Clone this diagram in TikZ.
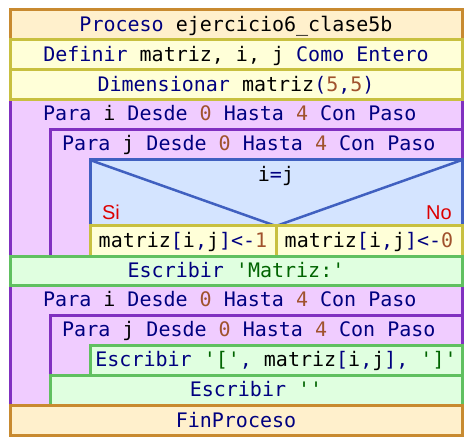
\documentclass[tikz,border=0pt]{standalone}
\usepackage{fontspec}
\newfontfamily\codefont{DejaVu Sans Mono}
\newfontfamily\labelfont{Liberation Sans}
\definecolor{kwcol}{HTML}{000080}
\definecolor{numcol}{HTML}{A0522D}
\definecolor{strcol}{HTML}{006400}
\definecolor{branchcol}{HTML}{DD0000}
\definecolor{procfill}{HTML}{FFF0CC}
\definecolor{procline}{HTML}{C88A30}
\definecolor{stmtfill}{HTML}{FFFFD8}
\definecolor{stmtline}{HTML}{C8C040}
\definecolor{loopfill}{HTML}{F0CCFF}
\definecolor{loopline}{HTML}{8030C0}
\definecolor{condfill}{HTML}{D4E4FF}
\definecolor{condline}{HTML}{4060C0}
\definecolor{outfill}{HTML}{E0FFE0}
\definecolor{outline}{HTML}{60C060}
\newcommand{\kw}[1]{\textcolor{kwcol}{#1}}
\newcommand{\nm}[1]{\textcolor{numcol}{#1}}
\newcommand{\st}[1]{\textcolor{strcol}{#1}}
\begin{document}
\begin{tikzpicture}[x=1pt,y=-1pt,
  procbox/.style={fill=procfill,draw=procline,line width=3pt},
  stmtbox/.style={fill=stmtfill,draw=stmtline,line width=3pt},
  loopbox/.style={fill=loopfill,draw=loopline,line width=3pt},
  condbox/.style={fill=condfill,draw=condline,line width=3pt},
  outbox/.style={fill=outfill,draw=outline,line width=3pt},
  code/.style={inner sep=0pt,anchor=base,font=\codefont\fontsize{20}{24}\selectfont},
  codeleft/.style={code,anchor=base west},
  branch/.style={inner sep=0pt,anchor=base,text=branchcol,font=\labelfont\fontsize{20}{24}\selectfont}]
\useasboundingbox (0,0) rectangle (472,446);

% outer loop bodies first, then the blocks nested inside them
\path[loopbox] (10,100) rectangle (462,257);
\path[loopbox] (50,130) rectangle (462,257);
\path[loopbox] (10,286) rectangle (462,406);
\path[loopbox] (50,316) rectangle (462,406);

% sequential blocks
\path[procbox] (10,10) rectangle (462,40);
\path[stmtbox] (10,40) rectangle (462,70);
\path[stmtbox] (10,70) rectangle (462,100);

% condition i=j
\path[condbox] (90,160) rectangle (462,226);
\coordinate (cl) at (90,160);
\coordinate (cr) at (462,160);
\coordinate (cv) at (276,226);
\draw[condline,line width=2.5pt] (cl) -- (cv) -- (cr);
\path[stmtbox] (90,226) rectangle (276,257);
\path[stmtbox] (276,226) rectangle (462,257);

\path[outbox] (10,257) rectangle (462,286);
\path[outbox] (90,346) rectangle (462,376);
\path[outbox] (50,376) rectangle (462,406);
\path[procbox] (10,406) rectangle (462,436);

% texts
\node[code] (proc) at (236,32) {\kw{Proceso} ejercicio6\_clase5b};
\node[code] (defn) at (236,62) {\kw{Definir} matriz, i, j \kw{Como Entero}};
\node[code] (dims) at (236,92) {\kw{Dimensionar} matriz\kw{(}\nm{5}\kw{,}\nm{5}\kw{)}};
\node[codeleft] (fori1) at (43,121) {\kw{Para} i \kw{Desde} \nm{0} \kw{Hasta} \nm{4} \kw{Con Paso}};
\node[codeleft] (forj1) at (62,151) {\kw{Para} j \kw{Desde} \nm{0} \kw{Hasta} \nm{4} \kw{Con Paso}};
\node[code] (cond) at (276,182) {i\kw{=}j};
\node[branch] (si) at (111,220) {Si};
\node[branch] (no) at (439,220) {No};
\node[code] (asg1) at (183,248) {matriz\kw{[}i\kw{,}j\kw{]<-}\nm{1}};
\node[code] (asg0) at (369,248) {matriz\kw{[}i\kw{,}j\kw{]<-}\nm{0}};
\node[code] (out1) at (236,278) {\kw{Escribir} \st{'Matriz:'}};
\node[codeleft] (fori2) at (43,307) {\kw{Para} i \kw{Desde} \nm{0} \kw{Hasta} \nm{4} \kw{Con Paso}};
\node[codeleft] (forj2) at (62,337) {\kw{Para} j \kw{Desde} \nm{0} \kw{Hasta} \nm{4} \kw{Con Paso}};
\node[code] (out2) at (276,367) {\kw{Escribir} \st{'['}\kw{,} matriz\kw{[}i\kw{,}j\kw{],} \st{']'}};
\node[code] (out3) at (256,397) {\kw{Escribir} \st{''}};
\node[code] (fin) at (236,428) {\kw{FinProceso}};
\end{tikzpicture}
\end{document}
